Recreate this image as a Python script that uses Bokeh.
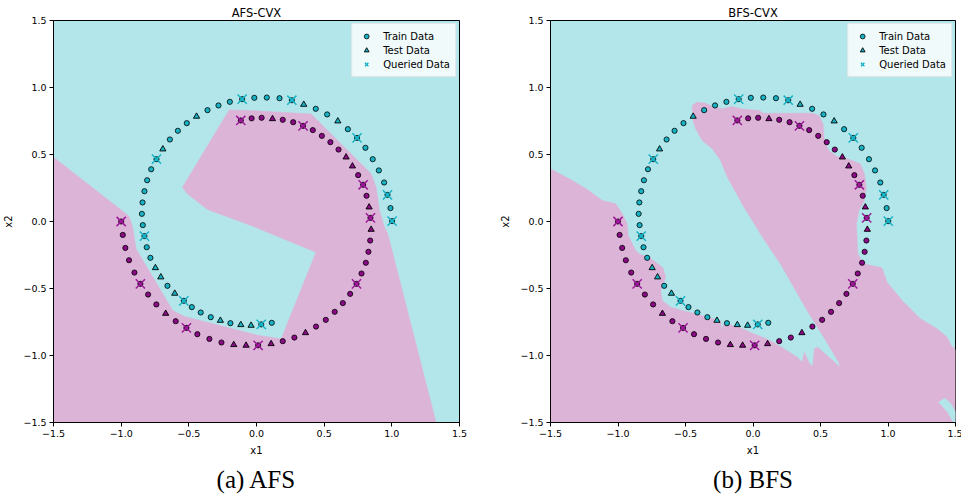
from bokeh.plotting import figure
from bokeh.layouts import row
from bokeh.models import Title, Legend, LegendItem, FixedTicker
from bokeh.embed import file_html
from bokeh.resources import INLINE

# ---------------- data ----------------
TICKS = [-1.5, -1.0, -0.5, 0.0, 0.5, 1.0, 1.5]
TICK_LABELS = ["\u22121.5", "\u22121.0", "\u22120.5", "0.0", "0.5", "1.0", "1.5"]

# class 0 (cyan ring); kind: c = train, t = test, q = queried (train point that was queried)
cyan_x = [0.113, 0.035, -0.040, -0.116, -0.193, -0.267, -0.338, -0.412, -0.478, -0.537,
          -0.604, -0.658, -0.707, -0.747, -0.784, -0.811, -0.828, -0.840, -0.847, -0.842,
          -0.828, -0.808, -0.778, -0.739, -0.692, -0.640, -0.581, -0.515, -0.443, -0.362,
          -0.281, -0.197, -0.106, -0.016, 0.076, 0.170, 0.261, 0.349, 0.438, 0.522,
          0.601, 0.675, 0.743, 0.805, 0.859, 0.904, 0.943, 0.968, 0.990, 1.002]
cyan_y = [-0.756, -0.768, -0.776, -0.771, -0.759, -0.739, -0.714, -0.679, -0.639, -0.592,
          -0.537, -0.480, -0.415, -0.346, -0.271, -0.192, -0.109, -0.027, 0.057, 0.142,
          0.226, 0.308, 0.390, 0.465, 0.540, 0.612, 0.677, 0.734, 0.784, 0.831,
          0.866, 0.893, 0.913, 0.923, 0.925, 0.920, 0.905, 0.873, 0.841, 0.799,
          0.749, 0.689, 0.624, 0.550, 0.465, 0.381, 0.291, 0.199, 0.100, 0.003]
cyan_kind = ["c", "q", "t", "t", "c", "t", "c", "c", "c", "q",
             "t", "c", "t", "t", "c", "c", "q", "c", "c", "c",
             "c", "c", "c", "q", "t", "c", "c", "c", "t", "c",
             "c", "c", "q", "c", "c", "c", "q", "t", "c", "c",
             "t", "c", "q", "c", "c", "c", "c", "q", "c", "q"]

# class 1 (purple ring)
purple_x = [-0.116, -0.036, 0.038, 0.118, 0.194, 0.271, 0.344, 0.416, 0.483, 0.546,
            0.606, 0.662, 0.709, 0.751, 0.788, 0.813, 0.832, 0.842, 0.847, 0.840,
            0.827, 0.808, 0.776, 0.739, 0.692, 0.638, 0.578, 0.512, 0.440, 0.362,
            0.280, 0.194, 0.108, 0.012, -0.077, -0.168, -0.259, -0.348, -0.437, -0.518,
            -0.597, -0.671, -0.740, -0.801, -0.858, -0.902, -0.942, -0.969, -0.988, -1.000]
purple_y = [0.754, 0.770, 0.774, 0.766, 0.759, 0.741, 0.714, 0.682, 0.639, 0.592,
            0.537, 0.480, 0.413, 0.346, 0.274, 0.192, 0.107, 0.027, -0.060, -0.142,
            -0.226, -0.308, -0.388, -0.465, -0.540, -0.609, -0.674, -0.734, -0.784, -0.831,
            -0.866, -0.893, -0.913, -0.924, -0.925, -0.920, -0.903, -0.876, -0.841, -0.794,
            -0.744, -0.687, -0.619, -0.545, -0.465, -0.381, -0.289, -0.197, -0.100, 0.000]
purple_kind = ["q", "c", "c", "t", "c", "c", "q", "c", "c", "c",
               "c", "t", "t", "c", "q", "c", "t", "q", "t", "c",
               "c", "c", "c", "q", "c", "c", "c", "c", "c", "t",
               "c", "c", "t", "q", "t", "t", "c", "c", "c", "q",
               "c", "t", "c", "c", "q", "c", "c", "c", "c", "q"]

# decision regions (class 1 area) – AFS
afs_region_x = [-1.5, -0.948, -0.939, -0.915, -0.890, -0.619, -0.532, 0.000, 0.182,
                0.440, -0.040, -0.359, -0.510, -0.547, -0.202, -0.040, 0.404, 0.847,
                0.884, 0.909, 0.946, 0.970, 1.327, -1.5]
afs_region_y = [0.480, 0.045, 0.032, -0.042, -0.204, -0.664, -0.709, -0.847, -0.876,
                -0.229, -0.030, 0.088, 0.206, 0.256, 0.833, 0.828, 0.803, 0.356,
                0.256, 0.082, -0.042, -0.092, -1.5, -1.5]

# decision regions (class 1 area) – BFS
bfs_region_x = [-1.5, -1.339, -1.216, -1.117, -1.018, -0.975, -0.932, -0.924, -0.870,
                -0.833, -0.771, -0.722, -0.667, -0.647, -0.684, -0.672, -0.610, -0.524,
                -0.425, -0.301, -0.240, -0.232, -0.215, -0.104, 0.000, 0.104, 0.203,
                0.326, 0.363, 0.381, 0.413, 0.442, 0.455, 0.479, 0.618, 0.642,
                0.635, 0.524, 0.400, 0.203, 0.054, -0.005, -0.067, -0.128, -0.190,
                -0.240, -0.301, -0.376, -0.425, -0.445, -0.450, -0.413, -0.351, -0.301,
                -0.227, -0.153, -0.080, 0.044, 0.079, 0.300, 0.440, 0.487, 0.519,
                0.529, 0.561, 0.623, 0.722, 0.796, 0.825, 0.840, 0.825, 0.785,
                0.766, 0.776, 0.820, 0.956, 0.993, 1.105, 1.240, 1.364, 1.438,
                1.468, 1.5, 1.5, -1.5]
bfs_region_y = [0.393, 0.306, 0.231, 0.157, 0.132, 0.070, -0.017, -0.104, -0.216,
                -0.246, -0.266, -0.303, -0.346, -0.415, -0.515, -0.590, -0.639, -0.664,
                -0.689, -0.726, -0.739, -0.813, -0.759, -0.789, -0.835, -0.876, -0.933,
                -1.012, -1.050, -0.975, -1.050, -1.082, -0.950, -0.938, -1.062, -1.092,
                -1.050, -0.863, -0.664, -0.316, -0.092, 0.007, 0.107, 0.219, 0.331,
                0.455, 0.542, 0.604, 0.692, 0.754, 0.866, 0.891, 0.883, 0.858,
                0.841, 0.858, 0.840, 0.828, 0.808, 0.808, 0.808, 0.791, 0.729,
                0.604, 0.530, 0.485, 0.460, 0.430, 0.356, 0.256, 0.157, 0.082,
                -0.017, -0.241, -0.316, -0.346, -0.453, -0.590, -0.726, -0.801, -0.863,
                -0.925, -0.958, -1.5, -1.5]
# small class-0 island, bottom right of BFS
bfs_island_x = [1.376, 1.420, 1.465, 1.500, 1.500, 1.485, 1.440]
bfs_island_y = [-1.348, -1.318, -1.360, -1.420, -1.500, -1.500, -1.420]

# ---------------- style ----------------
CYAN_BG = "#b3e6eb"
PINK_BG = "#dcb4d8"
CYAN_PT = "#17b3c4"
PURPLE_PT = "#8b0a86"
PURPLE_X = "#9c1a97"
FONT = "DejaVu Sans"


def pick(xs, ys, kinds, wanted):
    sx = [x for x, k in zip(xs, kinds) if k in wanted]
    sy = [y for y, k in zip(ys, kinds) if k in wanted]
    return sx, sy


def make_fig(title, caption, rx, ry, ix, iy, frame_w, left, right):
    p = figure(frame_width=frame_w, frame_height=402, x_range=(-1.5, 1.5), y_range=(-1.5, 1.5),
               output_backend="svg", toolbar_location=None,
               min_border_left=left, min_border_right=right, min_border_top=20, min_border_bottom=75)
    p.background_fill_color = CYAN_BG
    p.border_fill_color = "white"
    p.outline_line_color = "black"
    p.outline_line_width = 1
    p.grid.visible = False

    p.title.text = title
    p.title.align = "center"
    p.title.text_font = FONT
    p.title.text_font_size = "11.5px"
    p.title.text_font_style = "normal"
    p.title.text_color = "black"
    p.title.standoff = 2
    p.title.offset = 0

    for ax in (p.xaxis[0], p.yaxis[0]):
        ax.ticker = FixedTicker(ticks=TICKS)
        ax.major_label_overrides = {t: l for t, l in zip(TICKS, TICK_LABELS)}
        ax.major_label_text_font = FONT
        ax.major_label_text_font_size = "9.5px"
        ax.major_label_text_color = "black"
        ax.axis_label_text_font = FONT
        ax.axis_label_text_font_size = "10px"
        ax.axis_label_text_font_style = "normal"
        ax.axis_label_text_color = "black"
        ax.minor_tick_line_color = None
        ax.major_tick_in = 0
        ax.major_tick_out = 4
        ax.axis_line_color = "black"
        ax.major_tick_line_color = "black"
        ax.major_label_standoff = 3
    p.xaxis.axis_label = "x1"
    p.yaxis.axis_label = "x2"
    p.xaxis.axis_label_standoff = 5
    p.yaxis.axis_label_standoff = 6

    # decision regions
    p.patch(rx, ry, fill_color=PINK_BG, line_color=PINK_BG, line_width=0.5)
    if ix:
        p.patch(ix, iy, fill_color=CYAN_BG, line_color=CYAN_BG, line_width=0.5)

    # train points (including queried ones)
    cx, cy = pick(cyan_x, cyan_y, cyan_kind, "cq")
    px_, py_ = pick(purple_x, purple_y, purple_kind, "cq")
    r_train = p.scatter(cx, cy, marker="circle", size=5.2, fill_color=CYAN_PT,
                        line_color="black", line_width=0.8)
    p.scatter(px_, py_, marker="circle", size=5.2, fill_color=PURPLE_PT,
              line_color="black", line_width=0.8)
    # test points
    tx, ty = pick(cyan_x, cyan_y, cyan_kind, "t")
    ux, uy = pick(purple_x, purple_y, purple_kind, "t")
    r_test = p.scatter(tx, ty, marker="triangle", size=6.2, fill_color=CYAN_PT,
                       line_color="black", line_width=0.9)
    p.scatter(ux, uy, marker="triangle", size=6.2, fill_color=PURPLE_PT,
              line_color="black", line_width=0.9)
    # queried points
    qx, qy = pick(cyan_x, cyan_y, cyan_kind, "q")
    wx, wy = pick(purple_x, purple_y, purple_kind, "q")
    r_q = p.scatter(qx, qy, marker="x", size=13, line_color=CYAN_PT, line_width=1.5)
    p.scatter(wx, wy, marker="x", size=13, line_color=PURPLE_X, line_width=1.5)

    legend = Legend(items=[LegendItem(label="Train Data", renderers=[r_train]),
                           LegendItem(label="Test Data", renderers=[r_test]),
                           LegendItem(label="Queried Data", renderers=[r_q])],
                    location="top_right")
    legend.margin = 3
    legend.padding = 5
    legend.spacing = 0
    legend.glyph_height = 12
    legend.glyph_width = 18
    legend.label_height = 14
    legend.label_standoff = 8
    legend.label_text_font = FONT
    legend.label_text_font_size = "10px"
    legend.label_text_color = "black"
    legend.background_fill_color = "white"
    legend.background_fill_alpha = 0.8
    legend.border_line_color = "#d0d0d0"
    legend.border_line_width = 1
    p.add_layout(legend)

    cap = Title(text=caption, align="center", text_font="Liberation Serif",
                text_font_size="25px", text_font_style="normal", text_color="black")
    p.add_layout(cap, "below")
    return p


p1 = make_fig("AFS-CVX", "(a) AFS", afs_region_x, afs_region_y, None, None, 406, 52, 32)
p2 = make_fig("BFS-CVX", "(b) BFS", bfs_region_x, bfs_region_y, bfs_island_x, bfs_island_y, 405, 59, 7)

layout = row(p1, p2)
open("out.html", "w").write(file_html(layout, INLINE))
